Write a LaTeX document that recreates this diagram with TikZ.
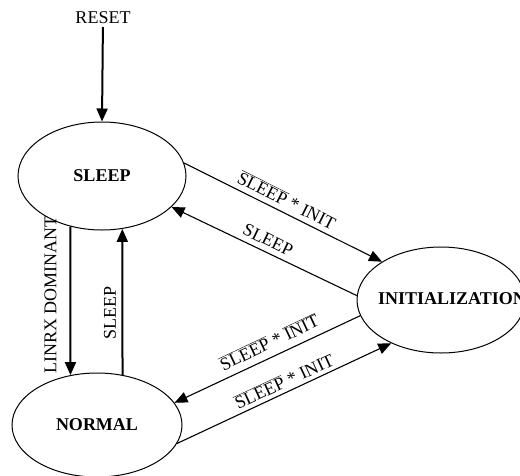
\documentclass[tikz,border=0pt]{standalone}
\usepackage{fontspec}
\setmainfont{Liberation Serif}
\usetikzlibrary{arrows.meta,shapes.geometric}
\newcommand{\ovl}[1]{\ensuremath{\overline{\mbox{#1}}}}
\begin{document}
\begin{tikzpicture}[x=1pt,y=-1pt,
  every node/.style={font=\fontsize{18}{20}\selectfont},
  state/.style={draw, ellipse, line width=1pt, inner sep=0pt},
  thinarrow/.style={line width=1.1pt, -{Triangle[length=13pt,width=11pt]}},
  thickarrow/.style={line width=2pt, -{Triangle[length=13pt,width=11pt]}},
  lbl/.style={inner sep=1pt}]
\useasboundingbox (0,0) rectangle (520,475);
\clip (0,0) rectangle (520,475);
% states
\node[state, minimum width=168pt, minimum height=108pt] (sleep) at (102,176) {\textbf{SLEEP}};
\node[state, minimum width=170pt, minimum height=104pt] (normal) at (97,425) {\textbf{NORMAL}};
\node[state, minimum width=168pt, minimum height=106pt] (init) at (441,300) {};
\node[anchor=west, inner sep=0pt] (initlabel) at (378,299) {\textbf{INITIALIZATION}};
\node (reset) at (103,17.5) {RESET};
% connectors
\draw[thickarrow] (reset) -- (sleep.north);
\draw[thinarrow] (sleep.9) -- (init.147);
\draw[thinarrow] (init.177) -- (sleep.-24);
\draw[thinarrow] (init.191) -- (normal.16);
\draw[thinarrow] (normal.-13) -- (init.221);
\draw[thickarrow] (sleep.238) -- (normal.118);
\draw[thickarrow] (normal.63) -- (sleep.-69);
% labels
\node[lbl, rotate=-26.7] (l1) at (287,200) {\ovl{SLEEP} * INIT};
\node[lbl, rotate=-25.6] (l2) at (268,240) {SLEEP};
\node[lbl, rotate=25.4] (l3) at (269,342) {\ovl{SLEEP} * \ovl{INIT}};
\node[lbl, rotate=24.9] (l4) at (284,381) {\ovl{SLEEP} * INIT};
\node[lbl, rotate=90] (l5) at (50.5,295) {LINRX DOMINANT};
\node[lbl, rotate=90] (l6) at (110,313) {SLEEP};
\end{tikzpicture}
\end{document}
